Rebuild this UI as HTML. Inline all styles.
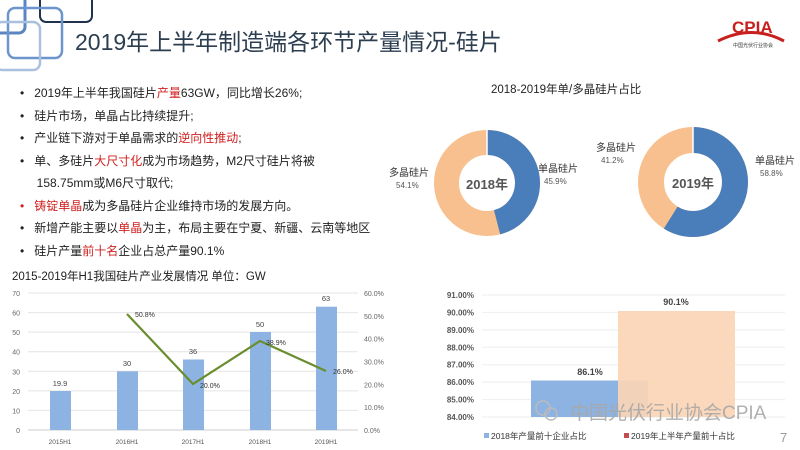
<!DOCTYPE html>
<html><head><meta charset="utf-8"><style>
body{margin:0;width:800px;height:450px;overflow:hidden;background:#fff;font-family:"Liberation Sans","Noto Sans CJK SC",sans-serif;}
svg text{font-family:"Liberation Sans","Noto Sans CJK SC",sans-serif;}
.b{position:absolute;left:20px;font-size:12px;color:#222;line-height:22.5px;}
.r{color:#d02020;}
</style></head><body>
<svg width="800" height="450" style="position:absolute;left:0;top:0">
<rect x="-10" y="-5" width="35" height="38" rx="6" fill="none" stroke="#5b86c0" stroke-width="3"/>
<rect x="40" y="-20" width="52" height="42" rx="6" fill="none" stroke="#1f3350" stroke-width="2"/>
<rect x="8" y="8" width="54" height="50" rx="7" fill="none" stroke="#6c95cc" stroke-width="2.5"/>
<rect x="-5" y="22" width="45" height="48" rx="7" fill="none" stroke="#a9c0de" stroke-width="2.5"/>
<text x="75" y="50" font-size="23" fill="#2c3e50">2019年上半年制造端各环节产量情况-硅片</text>
<text x="732" y="33" font-size="17" font-weight="bold" fill="#c8201e">CPIA</text>
<path d="M718 41 Q752 24 784 41" fill="none" stroke="#c8201e" stroke-width="3"/>
<text x="733" y="47" font-size="5" fill="#333">中国光伏行业协会</text>
<text x="491" y="93" font-size="11.5" fill="#222">2018-2019年单/多晶硅片占比</text>
<circle cx="487" cy="183" r="40.5" fill="none" stroke="#f8c08e" stroke-width="25"/>
<circle cx="487" cy="183" r="40.5" fill="none" stroke="#4a7ebb" stroke-width="25" stroke-dasharray="116.8 300" transform="rotate(-90 487 183)"/>
<line x1="487" y1="130" x2="487" y2="158" stroke="#fff" stroke-width="1.5"/>
<text x="487" y="189" font-size="13" font-weight="bold" fill="#555" text-anchor="middle">2018年</text>
<text x="538" y="172" font-size="10" fill="#333">单晶硅片</text><text x="544" y="184" font-size="8" fill="#555">45.9%</text>
<text x="389" y="176" font-size="10" fill="#333">多晶硅片</text><text x="396" y="188" font-size="8" fill="#555">54.1%</text>
<circle cx="693" cy="182" r="42" fill="none" stroke="#f8c08e" stroke-width="26"/>
<circle cx="693" cy="182" r="42" fill="none" stroke="#4a7ebb" stroke-width="26" stroke-dasharray="155.2 300" transform="rotate(-90 693 182)"/>
<line x1="693" y1="127" x2="693" y2="153" stroke="#fff" stroke-width="1.5"/>
<text x="693" y="188" font-size="13" font-weight="bold" fill="#555" text-anchor="middle">2019年</text>
<text x="755" y="164" font-size="10" fill="#333">单晶硅片</text><text x="760" y="176" font-size="8" fill="#555">58.8%</text>
<text x="596" y="151" font-size="10" fill="#333">多晶硅片</text><text x="601" y="163" font-size="8" fill="#555">41.2%</text>
<text x="12" y="280" font-size="11.5" fill="#222">2015-2019年H1我国硅片产业发展情况 单位：GW</text>
<g stroke="#e4e4e4" stroke-width="1">
<line x1="28" x2="358" y1="293" y2="293"/><line x1="28" x2="358" y1="312.6" y2="312.6"/><line x1="28" x2="358" y1="332.1" y2="332.1"/><line x1="28" x2="358" y1="351.7" y2="351.7"/><line x1="28" x2="358" y1="371.3" y2="371.3"/><line x1="28" x2="358" y1="390.9" y2="390.9"/><line x1="28" x2="358" y1="410.4" y2="410.4"/></g>
<line x1="28" x2="358" y1="430" y2="430" stroke="#ccc"/>
<g font-size="7" fill="#666" text-anchor="end">
<text x="20" y="296">70</text><text x="20" y="315.6">60</text><text x="20" y="335">50</text><text x="20" y="354.7">40</text><text x="20" y="374.3">30</text><text x="20" y="393.9">20</text><text x="20" y="413.4">10</text><text x="20" y="433">0</text></g>
<g font-size="7" fill="#666">
<text x="364" y="296">60.0%</text><text x="364" y="318.8">50.0%</text><text x="364" y="341.7">40.0%</text><text x="364" y="364.5">30.0%</text><text x="364" y="387.3">20.0%</text><text x="364" y="410.2">10.0%</text><text x="364" y="433">0.0%</text></g>
<g fill="#8db3e2">
<rect x="50" y="391" width="21" height="39"/><rect x="117" y="371.3" width="21" height="58.7"/><rect x="183" y="359.5" width="21" height="70.5"/><rect x="250" y="332" width="21" height="98"/><rect x="316" y="306.7" width="21" height="123.3"/></g>
<g font-size="7.5" fill="#444" text-anchor="middle">
<text x="60" y="386">19.9</text><text x="127" y="366">30</text><text x="193" y="354">36</text><text x="260" y="327">50</text><text x="326" y="301">63</text></g>
<g font-size="6.5" fill="#555" text-anchor="middle">
<text x="60" y="444">2015H1</text><text x="127" y="444">2016H1</text><text x="193" y="444">2017H1</text><text x="260" y="444">2018H1</text><text x="326" y="444">2019H1</text></g>
<polyline points="127,314 193,384 260,341 326,371" fill="none" stroke="#6a8e2f" stroke-width="2.2"/>
<g font-size="7" fill="#333"><text x="135" y="317">50.8%</text><text x="200" y="388">20.0%</text><text x="266" y="345">38.9%</text><text x="333" y="374">26.0%</text></g>
<g stroke="#eee"><line x1="482" x2="785" y1="295" y2="295"/><line x1="482" x2="785" y1="312.4" y2="312.4"/><line x1="482" x2="785" y1="329.9" y2="329.9"/><line x1="482" x2="785" y1="347.3" y2="347.3"/><line x1="482" x2="785" y1="364.7" y2="364.7"/><line x1="482" x2="785" y1="382.1" y2="382.1"/><line x1="482" x2="785" y1="399.6" y2="399.6"/><line x1="482" x2="785" y1="417" y2="417"/></g>
<g font-size="8" font-weight="bold" fill="#555" text-anchor="end">
<text x="474" y="298">91.00%</text><text x="474" y="315.4">90.00%</text><text x="474" y="332.9">89.00%</text><text x="474" y="350.3">88.00%</text><text x="474" y="367.7">87.00%</text><text x="474" y="385.1">86.00%</text><text x="474" y="402.6">85.00%</text><text x="474" y="420">84.00%</text></g>
<rect x="531" y="380.5" width="117" height="36.5" fill="#8db3e2"/>
<rect x="618" y="311" width="117" height="106" fill="#fbd5b5" opacity="0.92"/>
<text x="590" y="375" font-size="9" font-weight="bold" fill="#444" text-anchor="middle">86.1%</text>
<text x="676" y="305" font-size="9" font-weight="bold" fill="#444" text-anchor="middle">90.1%</text>
<circle cx="543" cy="408" r="7" fill="none" stroke="#bbb" stroke-width="1.5"/><circle cx="551" cy="414" r="6" fill="none" stroke="#bbb" stroke-width="1.5"/>
<text x="570" y="419" font-size="19" fill="#a8a8a8" opacity="0.9">中国光伏行业协会CPIA</text>
<rect x="484" y="433" width="5" height="5" fill="#8db3e2"/><text x="491" y="439" font-size="8.5" fill="#333">2018年产量前十企业占比</text>
<rect x="624" y="433" width="5" height="5" fill="#c0504d"/><text x="631" y="439" font-size="8.5" fill="#333">2019年上半年产量前十占比</text>
<text x="780" y="442" font-size="13" fill="#999">7</text>
</svg>
<div class="b" style="top:82px">
<div>•&nbsp;&nbsp; 2019年上半年我国硅片<span class="r">产量</span>63GW，同比增长26%;</div>
<div>•&nbsp;&nbsp; 硅片市场，单晶占比持续提升;</div>
<div>•&nbsp;&nbsp; 产业链下游对于单晶需求的<span class="r">逆向性推动</span>;</div>
<div>•&nbsp;&nbsp; 单、多硅片<span class="r">大尺寸化</span>成为市场趋势，M2尺寸硅片将被</div>
<div>&nbsp;&nbsp;&nbsp;&nbsp; 158.75mm或M6尺寸取代;</div>
<div><span class="r">•&nbsp;&nbsp; 铸锭单晶</span>成为多晶硅片企业维持市场的发展方向。</div>
<div>•&nbsp;&nbsp; 新增产能主要以<span class="r">单晶</span>为主，布局主要在宁夏、新疆、云南等地区</div>
<div>•&nbsp;&nbsp; 硅片产量<span class="r">前十名</span>企业占总产量90.1%</div>
</div>
</body></html>
